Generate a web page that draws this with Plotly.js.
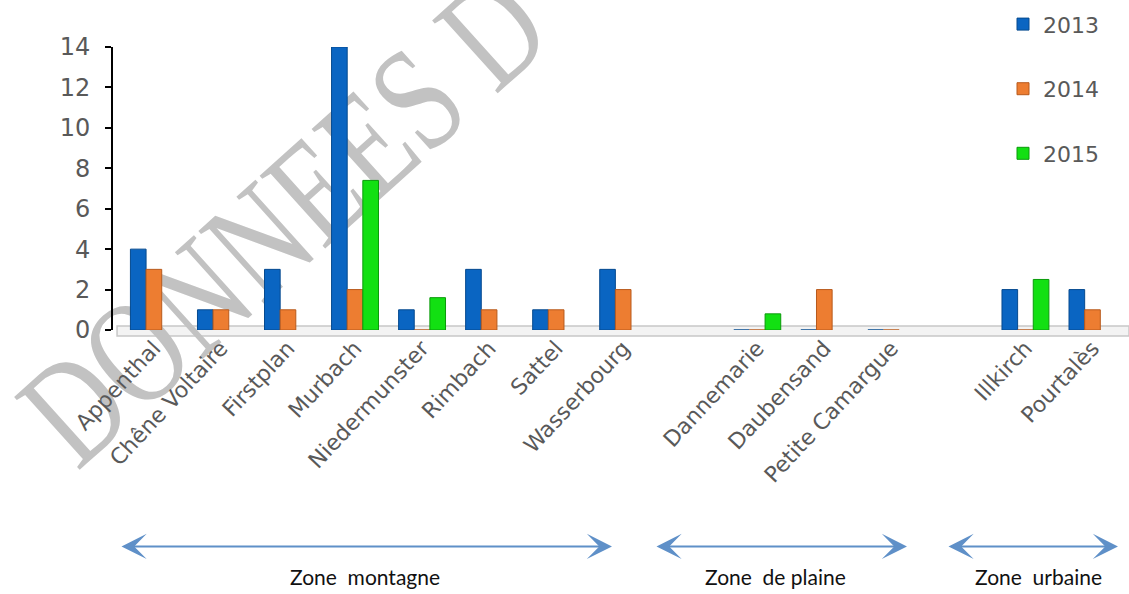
<!DOCTYPE html>
<html>
<head>
<meta charset="utf-8">
<script src="https://cdn.plot.ly/plotly-3.0.1.min.js"></script>
<style>html,body{margin:0;padding:0;background:#fff;}</style>
</head>
<body>
<div id="chart" style="width:1129px;height:594px;"></div>
<script>
const categories = ['Appenthal','Chêne Voltaire','Firstplan','Murbach','Niedermunster','Rimbach','Sattel','Wasserbourg',' ','Dannemarie','Daubensand','Petite Camargue','  ','Illkirch','Pourtalès'];
const v2013 = [4, 1, 3, 14, 1, 3, 1, 3, null, 0, 0, 0, null, 2, 2];
const v2014 = [3, 1, 1, 2, 0, 1, 1, 2, null, 0, 2, 0, null, 0, 1];
const v2015 = [null, null, null, 7.4, 1.6, null, null, null, null, 0.8, null, null, null, 2.5, null];
const seriesNames = ['2013', '2014', '2015'];
const zoneLabels = ['Zone  montagne', 'Zone  de plaine', 'Zone  urbaine'];
const watermarkText = 'DONNEES D';

const W = 1129, H = 594;
const M = {l: 113, r: 3, t: 45, b: 264};
const pw = W - M.l - M.r, ph = H - M.t - M.b;
const px = x => (x - M.l) / pw;
const py = y => (H - M.b - y) / ph;

const colors = ['#0a65c2', '#ed7d31', '#12e012'];
const edge = ['#064a8f', '#b85a1c', '#0a9a0a'];
const vals = [v2013, v2014, v2015];
const traces = vals.map((v, i) => ({
  type: 'bar', x: categories, y: v, name: seriesNames[i],
  legendgroup: 'g' + i,
  marker: {color: colors[i], line: {color: edge[i], width: 1}},
  hoverinfo: 'x+y+name'
}));

const annotations = [];
const arrows = [[120, 612], [655, 907], [947, 1118]];
const textCenters = [365, 775, 1038];
arrows.forEach((a, i) => {
  annotations.push({
    xref: 'paper', yref: 'paper', x: px(a[1]), y: py(548),
    ax: -(a[1] - a[0]), ay: 0, axref: 'pixel', ayref: 'pixel',
    text: '', showarrow: true, arrowhead: 3, arrowside: 'end+start',
    arrowsize: 2.1, arrowwidth: 2, arrowcolor: '#5f90c8'
  });
  annotations.push({
    xref: 'paper', yref: 'paper', x: px(textCenters[i]), y: py(578),
    xanchor: 'center', yanchor: 'middle', showarrow: false,
    text: zoneLabels[i], font: {family: 'Lato, sans-serif', size: 21, color: '#111111'}
  });
});
// watermark
const wmCx = 282, wmCy = 218;
annotations.push({
  xref: 'paper', yref: 'paper', x: px(wmCx), y: py(wmCy),
  xanchor: 'center', yanchor: 'middle', showarrow: false,
  text: watermarkText, textangle: 0,
  font: {family: 'Liberation Serif, serif', size: 130, color: '#c2c2c2'}
});

const layout = {
  width: W, height: H,
  margin: M,
  paper_bgcolor: '#ffffff', plot_bgcolor: 'rgba(0,0,0,0)',
  barmode: 'group', bargap: 0.3, bargroupgap: 0,
  showlegend: true,
  legend: {
    x: px(1003), y: py(1), xanchor: 'left', yanchor: 'top',
    font: {family: 'DejaVu Sans, sans-serif', size: 22, color: '#595959'},
    traceorder: 'grouped', tracegroupgap: 33, bgcolor: 'rgba(0,0,0,0)'
  },
  xaxis: {
    type: 'category', range: [-0.61, 14.5], autorange: false,
    showline: false, showgrid: false, zeroline: false, ticks: '',
    tickangle: -47, automargin: false,
    tickfont: {family: 'DejaVu Sans, sans-serif', size: 22, color: '#595959'}
  },
  yaxis: {
    range: [0, 14], autorange: false, dtick: 2, tick0: 0,
    showline: true, linecolor: '#000000', linewidth: 2,
    ticks: 'outside', ticklen: 6, tickwidth: 2, tickcolor: '#000000',
    showgrid: false, zeroline: false, automargin: false, ticklabelstandoff: 10,
    tickfont: {family: 'DejaVu Sans, sans-serif', size: 24, color: '#595959'}
  },
  shapes: [{
    type: 'rect', xref: 'paper', yref: 'paper', layer: 'below',
    x0: 0.004, x1: 1.003, y0: py(336), y1: py(326),
    fillcolor: '#f3f3f3', line: {color: '#c8c8c8', width: 1.5}
  }],
  annotations: annotations
};

Plotly.newPlot('chart', traces, layout, {staticPlot: true}).then(() => {
  const gd = document.getElementById('chart');
  const mainSvg = gd.querySelector('svg.main-svg');
  const cart = mainSvg.querySelector('.cartesianlayer');
  gd.querySelectorAll('g.annotation').forEach(g => {
    const t = g.querySelector('.annotation-text');
    if (t && t.textContent === watermarkText) {
      // tilt, condense and place the watermark behind the bars
      g.setAttribute('transform', `translate(${wmCx},${wmCy}) rotate(-42) scale(0.88,1.15) translate(${-wmCx},${-wmCy})`);
      mainSvg.insertBefore(g, cart);
    }
  });
});
</script>
</body>
</html>
